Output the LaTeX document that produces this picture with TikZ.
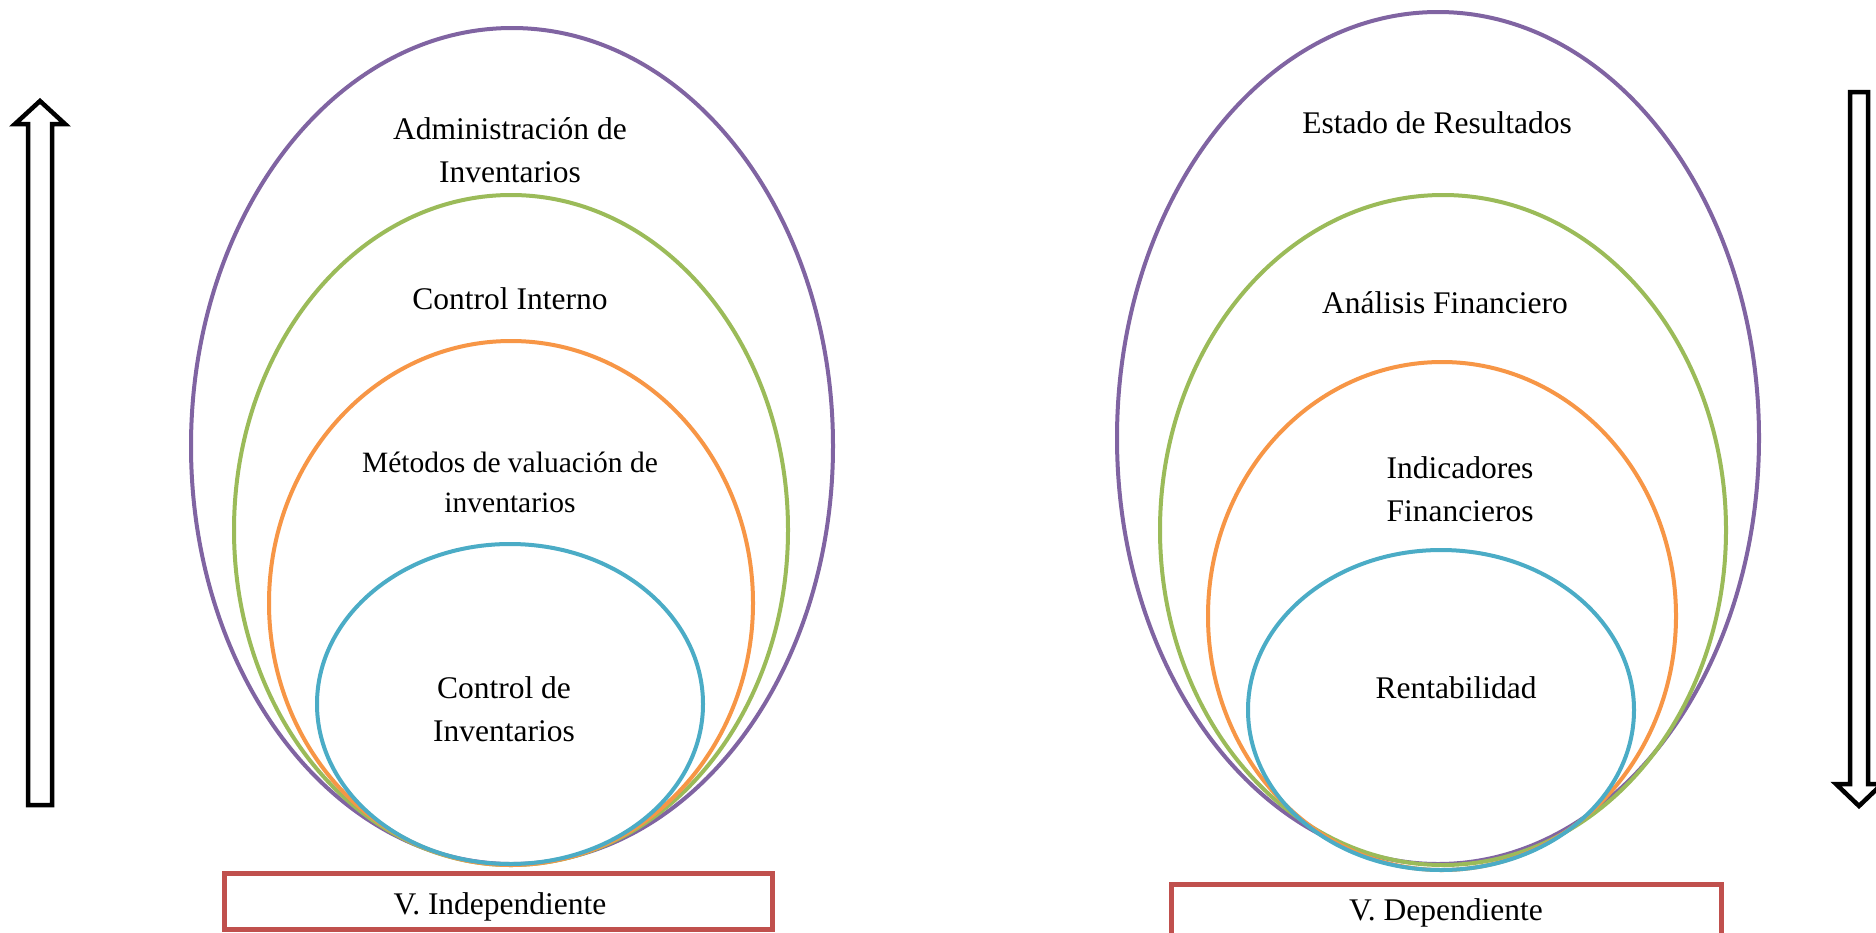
\documentclass[tikz,border=0pt]{standalone}
\usepackage{fontspec}
\setmainfont{Liberation Serif}
\definecolor{cpurple}{HTML}{8064A2}
\definecolor{cgreen}{HTML}{9BBB59}
\definecolor{corange}{HTML}{F79646}
\definecolor{cblue}{HTML}{4BACC6}
\definecolor{cred}{HTML}{C0504D}
\begin{document}
\begin{tikzpicture}[x=1pt,y=-1pt,
  ring/.style={line width=4pt},
  varbox/.style={draw=cred,line width=5pt},
  bigarrow/.style={draw=black,line width=4.5pt,fill=white,line join=miter},
  lbl/.style={font=\fontsize{31.5}{43}\selectfont,align=center,inner sep=0pt},
  lblsmall/.style={font=\fontsize{29.5}{40}\selectfont,align=center,inner sep=0pt}]
\useasboundingbox (0,0) rectangle (1876,932);
\clip (0,0) rectangle (1876,932);
\fill[white] (0,0) rectangle (1876,932);
% left ellipses
\draw[ring,cpurple] (512,446) ellipse [x radius=321pt,y radius=418pt];
\draw[ring,cgreen] (511,530) ellipse [x radius=277pt,y radius=335pt];
\draw[ring,corange] (511,603) ellipse [x radius=242pt,y radius=262pt];
\draw[ring,cblue] (510,704) ellipse [x radius=193pt,y radius=160pt];
% right ellipses
\draw[ring,cpurple] (1438,438) ellipse [x radius=321pt,y radius=426pt];
\draw[ring,cgreen] (1443,530) ellipse [x radius=283pt,y radius=335pt];
\draw[ring,corange] (1442,616) ellipse [x radius=234pt,y radius=254pt];
\draw[ring,cblue] (1441,710) ellipse [x radius=193pt,y radius=160pt];
% left labels
\node[lbl] (adm) at (510,150) {Administración de\\Inventarios};
\node[lbl] (ci) at (510,299) {Control Interno};
\node[lblsmall] (met) at (510,482) {Métodos de valuación de\\inventarios};
\node[lbl] (cdi) at (504,709) {Control de\\Inventarios};
% right labels
\node[lbl] (edr) at (1437,123) {Estado de Resultados};
\node[lbl] (af) at (1445,303) {Análisis Financiero};
\node[lbl] (if) at (1460,489) {Indicadores\\Financieros};
\node[lbl] (ren) at (1456,688) {Rentabilidad};
% boxes
\draw[varbox] (224,873) rectangle (772,929);
\node[lbl] (vi) at (500,907) {V. Independiente};
\draw[varbox] (1171,884) rectangle (1721,950);
\node[lbl] (vd) at (1446,913) {V. Dependiente};
% arrows
\draw[bigarrow] (28,805) -- (28,124) -- (15,124) -- (40,101) -- (65,124) -- (52,124) -- (52,805) -- cycle;
\draw[bigarrow] (1850,92) -- (1850,784) -- (1836,784) -- (1859,806) -- (1882,784) -- (1868,784) -- (1868,92) -- cycle;
\end{tikzpicture}
\end{document}
